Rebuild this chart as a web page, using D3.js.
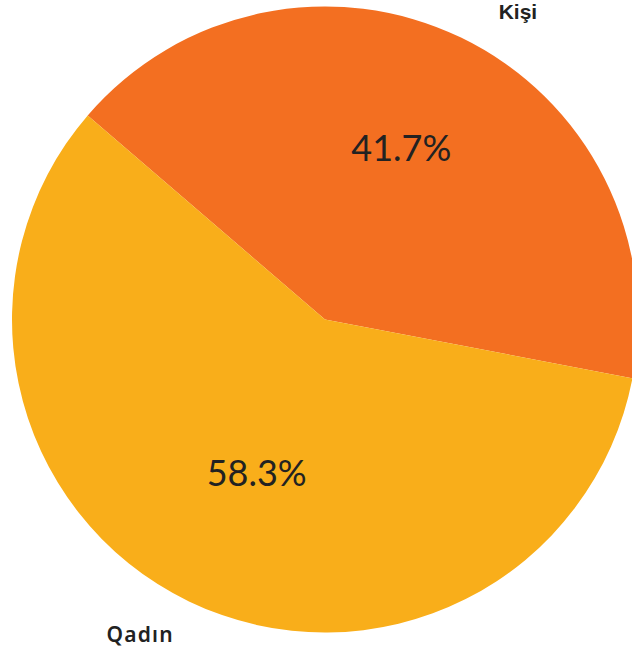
<!DOCTYPE html>
<html><head><meta charset="utf-8">
<script src="https://cdn.jsdelivr.net/npm/d3@7"></script>
<style>html,body{margin:0;padding:0;background:#fff;}</style>
</head><body>
<svg id="chart" width="632" height="653"></svg>
<script>
const categories = ["Kişi", "Qadın"];
const values = [41.7, 58.3];
const percentLabels = ["41.7%", "58.3%"];
const colors = ["#F36F21", "#F9AE1A"];
const labelFonts = ["'Liberation Sans', Arial, sans-serif", "'Noto Sans', sans-serif"];
const labelWeights = [700, 600];
const labelSpacing = [0, 1.2];

const svg = d3.select("#chart");
const cx = 325, cy = 319.5, R = 313;
const startDeg = -49.3;
const toRad = d => d * Math.PI / 180;

const pie = d3.pie().sort(null).value(d => d.v)
  .startAngle(toRad(startDeg)).endAngle(toRad(startDeg + 360));
const data = pie(categories.map((c, i) => ({c, v: values[i], i})));

const g = svg.append("g").attr("transform", `translate(${cx},${cy})`);
const arc = d3.arc().innerRadius(0).outerRadius(R);
g.selectAll("path.slice").data(data).enter().append("path")
  .attr("d", arc).attr("fill", d => colors[d.data.i]);

const pctR = 178, pctShift = toRad(-1.8);
g.selectAll("text.pct").data(data).enter().append("text")
  .attr("transform", d => {
    const a = (d.startAngle + d.endAngle) / 2 + pctShift;
    return `translate(${pctR * Math.sin(a) + 4},${-pctR * Math.cos(a) - 9})`;
  })
  .attr("text-anchor", "middle").attr("dy", "0.36em")
  .attr("font-family", "Lato, 'Noto Sans', sans-serif")
  .attr("font-weight", 400).attr("font-size", 36).attr("fill", "#222")
  .text(d => percentLabels[d.data.i]);

const labR = 364, shift = toRad(5.5);
g.selectAll("text.lab").data(data).enter().append("text")
  .attr("transform", d => {
    const a = (d.startAngle + d.endAngle) / 2 + shift;
    return `translate(${labR * Math.sin(a) + 4},${-labR * Math.cos(a) + 3.5})`;
  })
  .attr("text-anchor", "middle").attr("dy", "0.36em")
  .attr("font-family", d => labelFonts[d.data.i])
  .attr("font-weight", d => labelWeights[d.data.i])
  .attr("letter-spacing", d => labelSpacing[d.data.i])
  .attr("font-size", 21).attr("fill", "#222")
  .text(d => d.data.c);
</script>
</body></html>
